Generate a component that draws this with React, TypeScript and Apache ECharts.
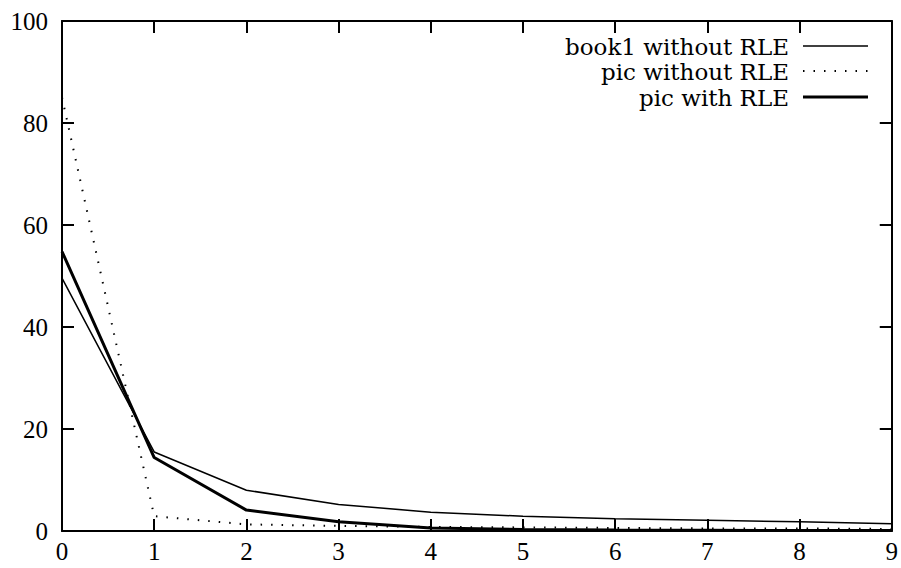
import React, { useEffect, useRef } from "react";
import * as echarts from "echarts";

const xValues = [0, 1, 2, 3, 4, 5, 6, 7, 8, 9];
const book1WithoutRLE = [49.6, 15.5, 8.0, 5.2, 3.7, 2.9, 2.4, 2.1, 1.8, 1.4];
const picWithoutRLE = [85, 2.9, 1.3, 1.0, 0.8, 0.7, 0.6, 0.5, 0.5, 0.4];
const picWithRLE = [54.8, 14.4, 4.1, 1.8, 0.6, 0.3, 0.2, 0.15, 0.1, 0.1];
const seriesNames = ["book1 without RLE", "pic without RLE", "pic with RLE"];

const TICK_FONT = "'Liberation Serif', 'Times New Roman', serif";
const LEGEND_FONT = "'DejaVu Serif', 'Liberation Serif', serif";

export default function App() {
  const ref = useRef<HTMLDivElement>(null);
  useEffect(() => {
    if (!ref.current) return;
    const chart = echarts.init(ref.current, null, { renderer: "svg" });
    const pts = (ys: number[]) => xValues.map((x, i) => [x, ys[i]]);
    const axisCommon = {
      type: "value" as const,
      axisLine: { show: true, onZero: false, lineStyle: { color: "#000", width: 2 } },
      axisTick: { show: true, inside: true, length: 12, lineStyle: { color: "#000", width: 2 } },
      splitLine: { show: false },
    };
    const legendRows = [
      { name: seriesNames[0], y: 46, dash: null as any, width: 1.5 },
      { name: seriesNames[1], y: 71, dash: [1.5, 9], width: 2 },
      { name: seriesNames[2], y: 97, dash: null as any, width: 3 },
    ];
    const graphic: any[] = [];
    legendRows.forEach((r) => {
      graphic.push({
        type: "text",
        x: 789,
        y: r.y + 1,
        style: {
          text: r.name,
          fontFamily: LEGEND_FONT,
          fontSize: 23,
          lineHeight: 22,
          fill: "#000",
          align: "right",
          verticalAlign: "middle",
        },
      });
      graphic.push({
        type: "line",
        shape: { x1: 803, y1: r.y, x2: 868, y2: r.y },
        style: { stroke: "#000", lineWidth: r.width, lineDash: r.dash || undefined },
      });
    });
    chart.setOption({
      animation: false,
      backgroundColor: "#fff",
      grid: { left: 62, right: 8, top: 21, bottom: 37, containLabel: false },
      xAxis: [
        {
          ...axisCommon,
          position: "bottom",
          min: 0,
          max: 9,
          interval: 1,
          axisLabel: { show: true, color: "#000", fontFamily: TICK_FONT, fontSize: 25, margin: 8 },
        },
        {
          ...axisCommon,
          position: "top",
          min: 0,
          max: 9,
          interval: 1,
          axisLabel: { show: false },
        },
      ],
      yAxis: [
        {
          ...axisCommon,
          position: "left",
          min: 0,
          max: 100,
          interval: 20,
          axisLabel: { show: true, color: "#000", fontFamily: TICK_FONT, fontSize: 25, margin: 14 },
        },
        {
          ...axisCommon,
          position: "right",
          min: 0,
          max: 100,
          interval: 20,
          axisLabel: { show: false },
        },
      ],
      series: [
        {
          name: seriesNames[0],
          type: "line",
          data: pts(book1WithoutRLE),
          symbol: "none",
          lineStyle: { color: "#000", width: 1.5 },
          z: 2,
        },
        {
          name: seriesNames[1],
          type: "line",
          data: pts(picWithoutRLE),
          symbol: "none",
          lineStyle: { color: "#000", width: 2, type: [1.5, 9] },
          z: 2,
        },
        {
          name: seriesNames[2],
          type: "line",
          data: pts(picWithRLE),
          symbol: "none",
          lineStyle: { color: "#000", width: 3 },
          z: 3,
        },
      ],
      graphic,
    });
    return () => chart.dispose();
  }, []);
  return <div ref={ref} style={{ width: 901, height: 568, position: "absolute", left: 0, top: 0 }} />;
}
